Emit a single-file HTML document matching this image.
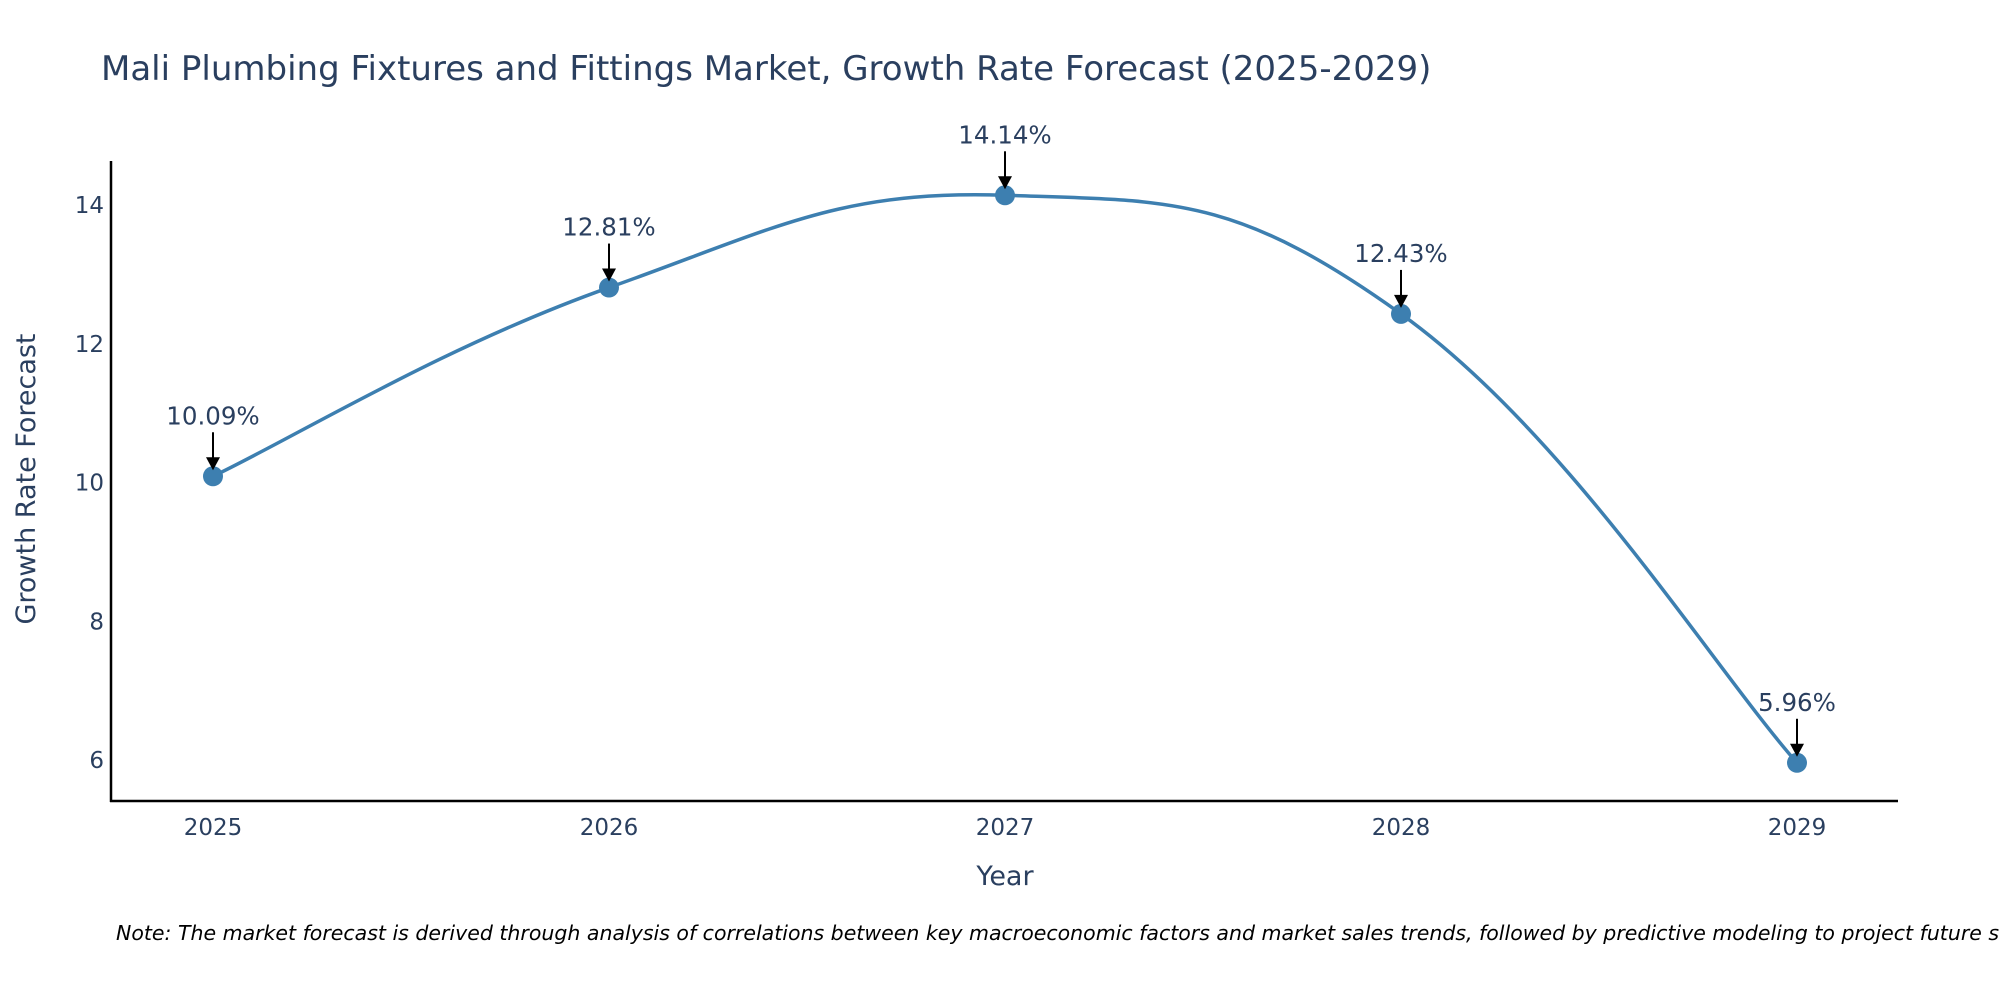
<!DOCTYPE html>
<html><head><meta charset="utf-8"><style>
html,body{margin:0;padding:0;background:#fff;}
svg{display:block;font-family:"DejaVu Sans","Liberation Sans",sans-serif;}
</style></head><body>
<svg id="chart" width="2000" height="1000" viewBox="0 0 2000 1000">
<rect width="2000" height="1000" fill="#fff"/>
<text x="101" y="80" font-size="34" fill="#2a3f5f">Mali Plumbing Fixtures and Fittings Market, Growth Rate Forecast (2025-2029)</text>
<g id="axes"></g>
<g id="series"></g>
<g id="annots"></g>
<text x="1005" y="885" font-size="27" fill="#2a3f5f" text-anchor="middle">Year</text>
<text x="35" y="479" font-size="27" fill="#2a3f5f" text-anchor="middle" transform="rotate(-90 35 479)">Growth Rate Forecast</text>
<text x="116" y="940" font-size="20.5" font-style="italic" fill="#000">Note: The market forecast is derived through analysis of correlations between key macroeconomic factors and market sales trends, followed by predictive modeling to project future sales.</text>
</svg>
<script>
const years = [2025, 2026, 2027, 2028, 2029];
const rates = [10.09, 12.81, 14.14, 12.43, 5.96];
const yTicks = [6, 8, 10, 12, 14];
const labels = ["10.09%", "12.81%", "14.14%", "12.43%", "5.96%"];

const NS = "http://www.w3.org/2000/svg";
const X0 = 213, X1 = 1797;
const xs = v => X0 + (v - years[0]) / (years[years.length-1] - years[0]) * (X1 - X0);
const ys = v => 760 - (v - 6) / 8 * (760 - 205);
function mk(tag, attrs, parent){const e=document.createElementNS(NS,tag);for(const k in attrs)e.setAttribute(k,attrs[k]);parent.appendChild(e);return e;}

const axes = document.getElementById('axes');
let yl = mk('line',{x1:111,y1:161,x2:111,y2:802,stroke:'#000','stroke-width':2.5},axes);


let xl = mk('line',{x1:110,y1:801,x2:1898,y2:801,stroke:'#000','stroke-width':2.5},axes);


yTicks.forEach(t=>{
  const e=mk('text',{x:104,y:ys(t)+8,'font-size':23,fill:'#2a3f5f','text-anchor':'end'},axes);
  e.textContent=t;
  
  
});
years.forEach(t=>{
  const e=mk('text',{x:xs(t),y:835,'font-size':23,fill:'#2a3f5f','text-anchor':'middle'},axes);
  e.textContent=t;
  
  
});

const pts = years.map((y,i)=>[xs(y), ys(rates[i])]);
let d = `M${pts[0][0]},${pts[0][1]}`;
const s = 0.21;
for(let i=0;i<pts.length-1;i++){
  const p0=pts[Math.max(i-1,0)],p1=pts[i],p2=pts[i+1],p3=pts[Math.min(i+2,pts.length-1)];
  const c1=[p1[0]+(p2[0]-p0[0])*s,p1[1]+(p2[1]-p0[1])*s];
  const c2=[p2[0]-(p3[0]-p1[0])*s,p2[1]-(p3[1]-p1[1])*s];
  d+=` C${c1[0]},${c1[1]} ${c2[0]},${c2[1]} ${p2[0]},${p2[1]}`;
}
const series=document.getElementById('series');
const line=mk('path',{d:d,fill:'none',stroke:'#3d7fb0','stroke-width':3.5},series);


pts.forEach(p=>{
  const c=mk('circle',{cx:p[0],cy:p[1],r:10,fill:'#3d7fb0'},series);
  
  
});
const an=document.getElementById('annots');
pts.forEach((p,i)=>{
  const l=mk('line',{x1:p[0],y1:p[1]-44,x2:p[0],y2:p[1]-16,stroke:'#000','stroke-width':2},an);
  
  
  const h=mk('polygon',{points:`${p[0]-7},${p[1]-19} ${p[0]+7},${p[1]-19} ${p[0]},${p[1]-6}`,fill:'#000'},an);
  
  
  const t=mk('text',{x:p[0],y:p[1]-52,'font-size':24.5,fill:'#2a3f5f','text-anchor':'middle'},an);
  t.textContent=labels[i];
  
  
});
</script>
</body></html>
